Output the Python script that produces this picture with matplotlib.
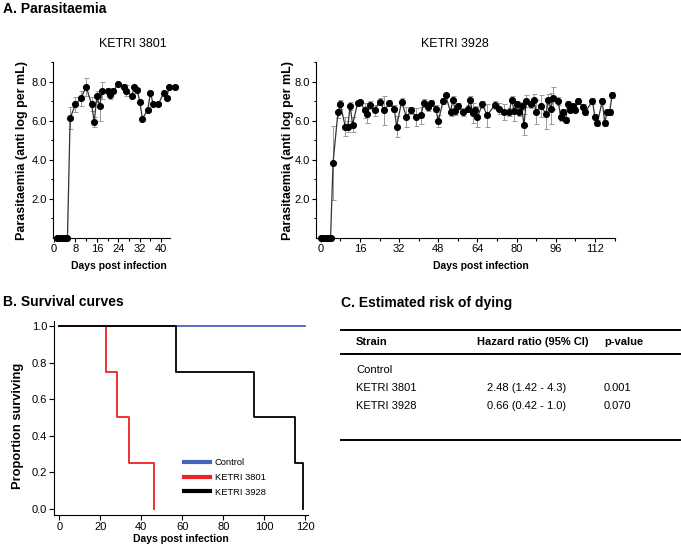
import numpy as np
import matplotlib
matplotlib.use('Agg')
import matplotlib.pyplot as plt
from matplotlib.lines import Line2D
from matplotlib.ticker import MultipleLocator, FormatStrFormatter

plt.rcParams['font.family'] = ['Liberation Sans', 'DejaVu Sans']

# ---- data ----
days3801 = [1, 2, 3, 4, 5, 6, 8, 10, 12, 14, 15, 16, 17, 18, 20, 21, 22, 24, 26, 27,
            29, 30, 31, 32, 33, 35, 36, 37, 39, 41, 42, 43, 45]
para3801 = [0, 0, 0, 0, 0, 6.14, 6.83, 7.14, 7.73, 6.85, 5.95, 7.24, 6.73, 7.54, 7.54, 7.32,
            7.54, 7.85, 7.71, 7.54, 7.27, 7.71, 7.58, 6.98, 6.1, 6.56, 7.44, 6.85, 6.85,
            7.44, 7.14, 7.73, 7.73]
err3801 = [0, 0, 0, 0, 0, 0.55, 0.4, 0.4, 0.45, 0.35, 0.25, 0.3, 0.75, 0.45, 0.15, 0.2,
           0.15, 0.1, 0.15, 0.3, 0.1, 0.1, 0.1, 0.1, 0.1, 0.1, 0.1, 0.1, 0.1, 0.1, 0.1,
           0.1, 0.1]

days3928 = [0, 1, 2, 3, 4, 5, 7, 8, 10, 11, 12, 13, 15, 16, 18, 19, 20, 22, 24, 26, 28,
            30, 31, 33, 35, 37, 39, 41, 42, 44, 45, 47, 48, 50, 51, 53, 54, 55, 56, 58,
            60, 61, 62, 63, 64, 66, 68, 71, 73, 75, 77, 78, 79, 80, 81, 82, 83, 84, 86,
            87, 88, 90, 92, 93, 94, 95, 97, 98, 99, 100, 101, 102, 103, 104, 105, 107,
            108, 111, 112, 113, 115, 116, 117, 118, 119]
para3928 = [0, 0, 0, 0, 0, 3.85, 6.43, 6.83, 5.7, 5.7, 6.74, 5.8, 6.88, 6.98, 6.52, 6.32,
            6.8, 6.52, 6.98, 6.52, 6.91, 6.62, 5.7, 6.98, 6.18, 6.52, 6.18, 6.27, 6.91,
            6.71, 6.91, 6.62, 5.98, 7.0, 7.3, 6.45, 7.08, 6.48, 6.74, 6.45, 6.62, 7.08,
            6.4, 6.54, 6.18, 6.83, 6.27, 6.79, 6.62, 6.45, 6.45, 7.08, 6.5, 6.83, 6.45,
            6.74, 5.8, 7.0, 6.83, 7.08, 6.45, 6.74, 6.35, 7.08, 6.62, 7.17, 7.0, 6.18,
            6.45, 6.03, 6.86, 6.57, 6.74, 6.57, 7.0, 6.71, 6.45, 7.0, 6.18, 5.89, 7.0,
            5.89, 6.45, 6.45, 7.3]
err3928 = [0, 0, 0, 0, 0, 1.9, 0.3, 0.25, 0.5, 0.3, 0.2, 0.4, 0.15, 0.1, 0.4, 0.45,
           0.2, 0.3, 0.2, 0.75, 0.15, 0.2, 0.55, 0.2, 0.5, 0.2, 0.47, 0.45, 0.2, 0.2,
           0.15, 0.2, 0.3, 0.15, 0.1, 0.2, 0.2, 0.2, 0.15, 0.2, 0.2, 0.2, 0.5, 0.2,
           0.5, 0.2, 0.6, 0.2, 0.3, 0.4, 0.2, 0.2, 0.5, 0.2, 0.2, 0.2, 0.55, 0.3, 0.2,
           0.3, 0.6, 0.55, 0.8, 0.3, 0.8, 0.55, 0.2, 0.2, 0.15, 0.15, 0.15, 0.15, 0.15,
           0.15, 0.15, 0.15, 0.15, 0.15, 0.15, 0.15, 0.15, 0.15, 0.15, 0.15, 0.15]

km_labels = ['Control', 'KETRI 3801', 'KETRI 3928']
km_colors = ['#4466bb', '#ee2222', 'black']
km_times = [[0, 120], [0, 23, 28, 34, 46], [0, 57, 95, 115, 119]]
km_surv = [[1, 1], [1, 0.75, 0.5, 0.25, 0], [1, 0.75, 0.5, 0.25, 0]]

tab_header = ['Strain', 'Hazard ratio (95% CI)', 'p-value']
tab_strain = ['Control', 'KETRI 3801', 'KETRI 3928']
tab_hr = ['', '2.48 (1.42 - 4.3)', '0.66 (0.42 - 1.0)']
tab_p = ['', '0.001', '0.070']

W, H = 681, 551
fig = plt.figure(figsize=(W / 100, H / 100), dpi=100)


def px_axes(l, t, r, b):
    return fig.add_axes([l / W, 1 - b / H, (r - l) / W, (b - t) / H])


def fx(x):
    return x / W


def fy(y):
    return 1 - y / H


def style_para(ax, major, minor):
    for s in ['top', 'right']:
        ax.spines[s].set_visible(False)
    ax.set_ylim(0, 9)
    ax.yaxis.set_major_locator(plt.FixedLocator([2, 4, 6, 8]))
    ax.yaxis.set_minor_locator(plt.FixedLocator([1, 3, 5, 7, 9]))
    ax.yaxis.set_major_formatter(FormatStrFormatter('%.1f'))
    ax.xaxis.set_major_locator(MultipleLocator(major))
    ax.xaxis.set_minor_locator(MultipleLocator(minor))
    ax.tick_params(which='major', length=3, width=0.8, labelsize=8, pad=1.5)
    ax.tick_params(which='minor', length=1.8, width=0.8)
    ax.set_xlabel('Days post infection', fontsize=7.5, fontweight='bold', labelpad=2)
    ax.set_ylabel('Parasitaemia (anti log per mL)', fontsize=9, fontweight='bold')


def plot_para(ax, d, v, e):
    ax.errorbar(d, v, yerr=e, fmt='none', ecolor='#999999', elinewidth=0.7,
                capsize=1.8, capthick=0.7, clip_on=False, zorder=2)
    ax.plot(d, v, '-', color='#333333', lw=0.9, clip_on=False, zorder=3)
    ax.plot(d, v, 'o', color='black', ms=4.1, clip_on=False, zorder=4)


# ---- A. Parasitaemia ----
fig.text(fx(3), fy(9), 'A. Parasitaemia', fontsize=10, fontweight='bold', va='center')

axL = px_axes(53, 62, 170, 238)
plot_para(axL, days3801, para3801, err3801)
axL.set_xlim(-0.4, 43.3)
style_para(axL, 8, 4)
axL.xaxis.set_label_coords(0.56, -0.13)
axL.yaxis.set_label_coords(-0.21, 0.5)
fig.text(fx(133), fy(44), 'KETRI 3801', fontsize=9, ha='center', va='center')

axR = px_axes(316, 62, 615, 238)
plot_para(axR, days3928, para3928, err3928)
axR.set_xlim(-1.96, 120.2)
style_para(axR, 16, 8)
axR.xaxis.set_label_coords(0.55, -0.13)
axR.yaxis.set_label_coords(-0.072, 0.5)
fig.text(fx(455), fy(44), 'KETRI 3928', fontsize=9, ha='center', va='center')

# ---- B. Survival curves ----
fig.text(fx(3), fy(302), 'B. Survival curves', fontsize=10, fontweight='bold', va='center')

axB = px_axes(54, 321, 308, 515)
for t, s, c in zip(km_times, km_surv, km_colors):
    axB.step(t, s, where='post', color=c, lw=1.3)
handles = [Line2D([], [], color=c, lw=3) for c in km_colors]
axB.set_xlim(-2.6, 121.3)
axB.set_ylim(-0.034, 1.027)
axB.xaxis.set_major_locator(MultipleLocator(20))
axB.yaxis.set_major_locator(MultipleLocator(0.2))
axB.yaxis.set_major_formatter(FormatStrFormatter('%.1f'))
axB.tick_params(length=3.5, width=0.8, labelsize=8, pad=1.5)
for s in ['top', 'right']:
    axB.spines[s].set_visible(False)
axB.set_xlabel('Days post infection', fontsize=7.5, fontweight='bold', labelpad=1.5)
axB.set_ylabel('Proportion surviving', fontsize=9.25, fontweight='bold')
axB.yaxis.set_label_coords(-0.118, 0.46)
axB.legend(handles, km_labels, loc='upper left',
           bbox_to_anchor=(fx(184), fy(458)), bbox_transform=fig.transFigure,
           frameon=False, fontsize=6.75, handlelength=2.8, handletextpad=0.5,
           labelspacing=0.62, borderaxespad=0, borderpad=0)

# ---- C. Estimated risk of dying ----
fig.text(fx(341), fy(303), 'C. Estimated risk of dying', fontsize=10, fontweight='bold',
         va='center')
for y in [329.5, 353.5, 440]:
    fig.add_artist(Line2D([fx(341), fx(680)], [fy(y), fy(y)], transform=fig.transFigure,
                          color='black', lw=1.4))
fig.text(fx(356), fy(342), tab_header[0], fontsize=8, fontweight='bold', va='center')
fig.text(fx(533), fy(342), tab_header[1], fontsize=8, fontweight='bold', va='center',
         ha='center')
fig.text(fx(624), fy(342), tab_header[2], fontsize=8, fontweight='bold', va='center',
         ha='center')
row_y = [370, 388, 406]
for i in range(len(tab_strain)):
    fig.text(fx(356), fy(row_y[i]), tab_strain[i], fontsize=8, va='center')
    fig.text(fx(527), fy(row_y[i]), tab_hr[i], fontsize=8, va='center', ha='center')
    fig.text(fx(617), fy(row_y[i]), tab_p[i], fontsize=8, va='center', ha='center')

fig.savefig('out.png', dpi=100)
